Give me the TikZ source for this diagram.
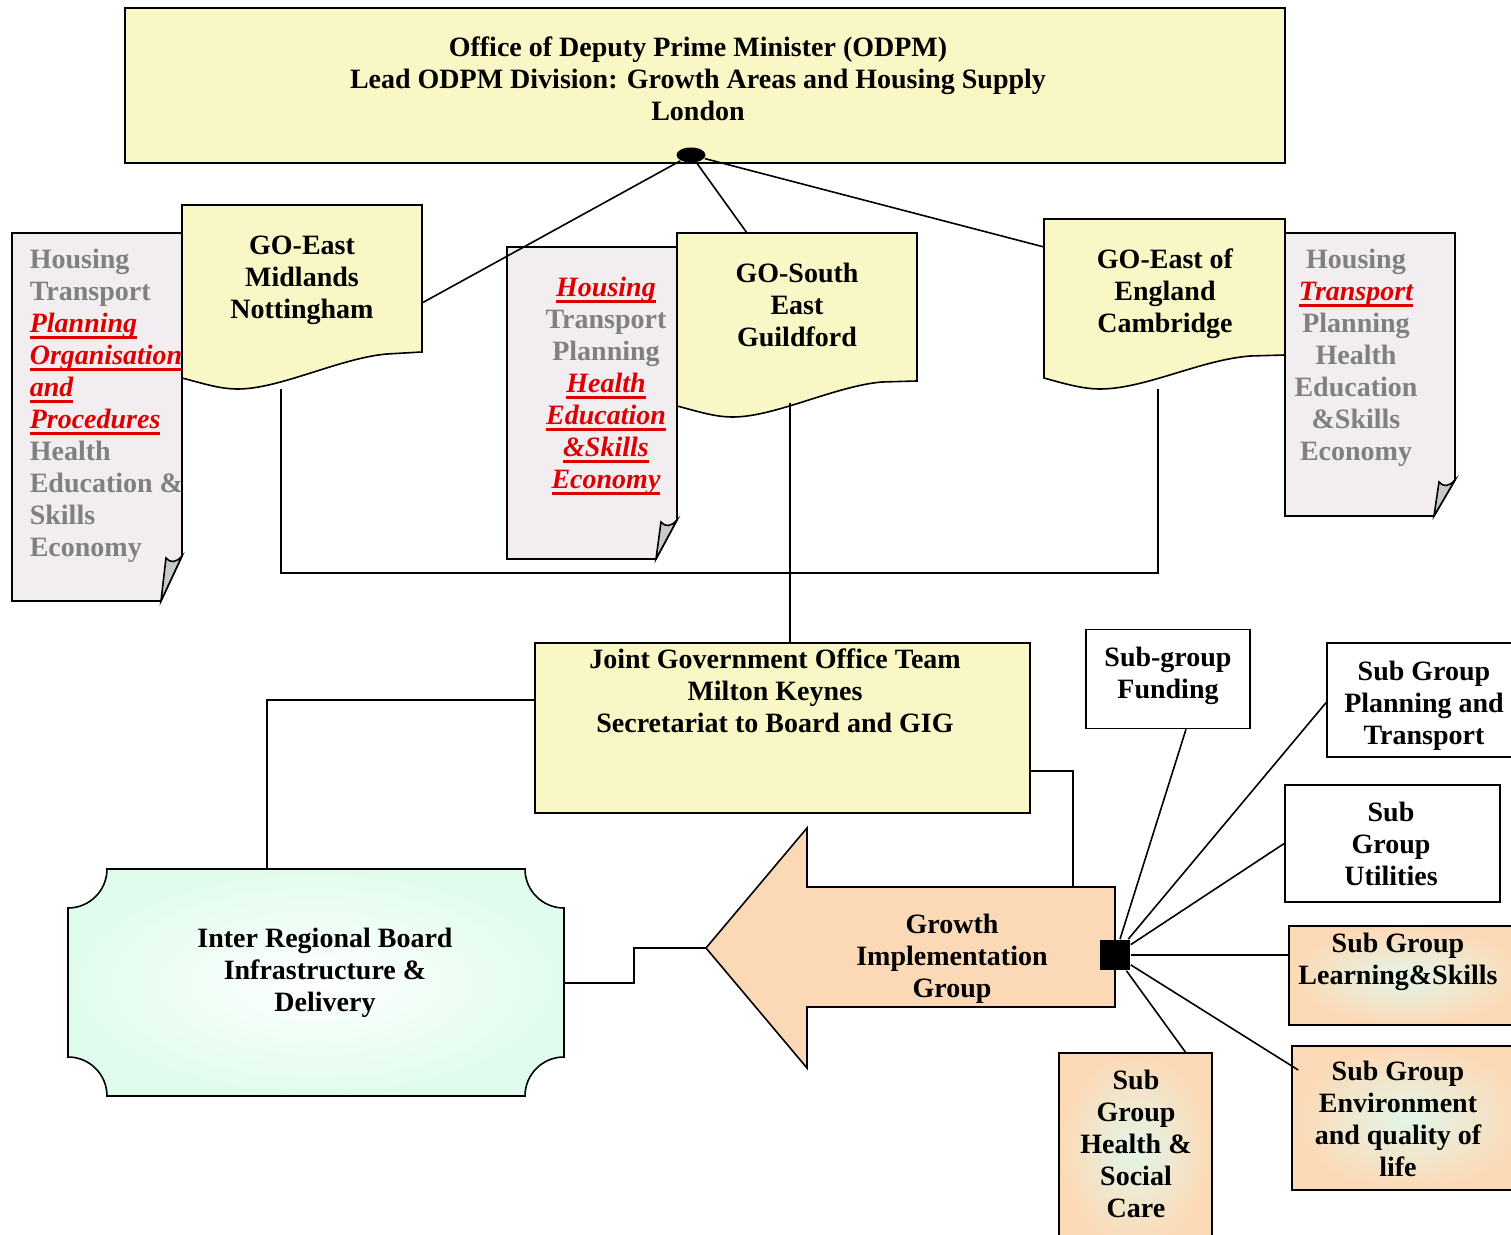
\documentclass[tikz,border=0pt]{standalone}
\usepackage{fontspec}
\setmainfont{Liberation Serif}
\usetikzlibrary{shapes.geometric}

\definecolor{odpmyellow}{RGB}{249,247,197}
\definecolor{notegrey}{RGB}{241,237,241}
\definecolor{foldgrey}{RGB}{200,200,200}
\definecolor{peach}{RGB}{252,217,182}
\definecolor{mint}{RGB}{224,252,236}
\definecolor{glow}{RGB}{226,246,232}
\definecolor{hired}{RGB}{222,0,0}
\newsavebox{\hotbox}
\newcommand{\hot}[1]{{\color{hired}\itshape\sbox{\hotbox}{#1}\rlap{\rule[-3.4pt]{\wd\hotbox}{1.4pt}}\usebox{\hotbox}}}

\begin{document}
\begin{tikzpicture}[x=0.5pt,y=-0.5pt,line width=0.8pt,
		font=\fontsize{14}{16}\selectfont\bfseries]
		\tikzstyle{txt}=[inner sep=0pt,align=center,anchor=north]
		\tikzstyle{notetxt}=[txt,text=gray]
		\tikzstyle{box}=[draw,rectangle,inner sep=0pt]
		\tikzstyle{peachbox}=[box,shade,shading=radial,inner color=glow,outer color=peach]
		\tikzstyle{note}=[draw,fill=notegrey]
		\tikzstyle{fold}=[draw,fill=foldgrey]
		\tikzstyle{gobox}=[draw,fill=odpmyellow]
		
		\useasboundingbox (0,0) rectangle (1511,1235);
		
		% ODPM
		\node[box,fill=odpmyellow,minimum width=580pt,minimum height=77.5pt] (odpm) at (705,85.5) {};
		\node[txt] (odpmt) at (698,36) {Office of Deputy Prime Minister (ODPM)\\Lead ODPM Division: Growth Areas and Housing Supply\\London};
		
		% topic notes
		\draw[note] (12,233) -- (182,233) -- (182,556) -- (161,601) -- (12,601) -- cycle;
		\draw[fold] (182,556) .. controls (176,563) and (170,563) .. (166,558) -- (161,601) -- cycle;
		\node[notetxt,align=left,anchor=north west] (emnote) at (29,248) {Housing\\Transport\\\hot{Planning}\\\hot{Organisation}\\\hot{and}\\\hot{Procedures}\\Health\\Education \&\\Skills\\Economy};
		
		\draw[note] (507,247) -- (677,247) -- (677,520) -- (656,559) -- (507,559) -- cycle;
		\draw[fold] (677,520) .. controls (671,527) and (665,527) .. (661,522) -- (656,559) -- cycle;
		\node[notetxt] (senote) at (606,276) {\hot{Housing}\\Transport\\Planning\\\hot{Health}\\\hot{Education}\\\hot{\&Skills}\\\hot{Economy}};
		
		\draw[note] (1285,233) -- (1455,233) -- (1455,480) -- (1434,516) -- (1285,516) -- cycle;
		\draw[fold] (1455,480) .. controls (1449,487) and (1443,487) .. (1439,482) -- (1434,516) -- cycle;
		\node[notetxt] (eenote) at (1356,248) {Housing\\\hot{Transport}\\Planning\\Health\\Education\\\&Skills\\Economy};
		
		% government offices
		\draw[gobox] (182,205) -- (422,205) -- (422,352) -- (387,354)
			.. controls (340,358) and (280,389) .. (238,389)
			.. controls (220,389) and (205,384) .. (182,378) -- cycle;
		\node[txt] (em) at (302,235) {GO-East\\Midlands\\Nottingham};
		
		\draw[gobox] (677,233) -- (917,233) -- (917,381) -- (882,382)
			.. controls (835,386) and (775,417) .. (733,417)
			.. controls (715,417) and (700,412) .. (677,406) -- cycle;
		\node[txt] (se) at (797,262) {GO-South\\East\\Guildford};
		
		\draw[gobox] (1044,219) -- (1285,219) -- (1285,355) -- (1250,356)
			.. controls (1200,360) and (1145,389) .. (1100,389)
			.. controls (1082,389) and (1062,383) .. (1044,378) -- cycle;
		\node[txt] (ee) at (1165,248) {GO-East of\\England\\Cambridge};
		
		\coordinate (em-r) at (422,303);
		\coordinate (se-t) at (747,233);
		\coordinate (ee-l) at (1044,247);
		\coordinate (em-b) at (281,389);
		\coordinate (se-b) at (790,403);
		\coordinate (ee-b) at (1158,389);
		
		\node[ellipse,fill,inner sep=0pt,minimum width=14.5pt,minimum height=7.5pt] (hub) at (691,155) {};
		\path (hub) edge (em-r)
			edge (se-t)
			edge (ee-l);
		
		\draw (em-b) -- ++(0,184) -| (ee-b);
		
		% joint team
		\node[box,fill=odpmyellow,minimum width=247.5pt,minimum height=85pt] (jgot) at (782.5,728) {};
		\node[txt] (jgott) at (775,648) {Joint Government Office Team\\Milton Keynes\\Secretariat to Board and GIG};
		\draw (se-b) -- (se-b |- jgot.north);
		
		% board
		\shade[draw,inner color=white,outer color=mint] (107,869) -- (525,869) arc (180:90:39)
			-- (564,1057) arc (270:180:39) -- (107,1096) arc (0:-90:39)
			-- (68,908) arc (90:0:39) -- cycle;
		\node[txt] (irb) at (325,927) {Inter Regional Board\\Infrastructure \&\\Delivery};
		\coordinate (irb-top) at (267,869);
		\coordinate (irb-r) at (564,983);
		
		% implementation group
		\draw[fill=peach] (706,948) -- (807,828) -- (807,887) -- (1115,887) -- (1115,1007)
			-- (807,1007) -- (807,1068) -- cycle;
		\node[txt] (gig) at (952,913) {Growth\\Implementation\\Group};
		\coordinate (gig-tip) at (706,948);
		\coordinate (gig-top) at (1073,887);
		
		\draw ([yshift=14pt]jgot.west) -| (irb-top);
		\draw ([yshift=-21.5pt]jgot.east) -| (gig-top);
		\draw (irb-r) -- ++(70,0) |- (gig-tip);
		
		% sub groups
		\node[box,fill=white,minimum width=82pt,minimum height=49.5pt] (fund) at (1168,679) {};
		\node[txt] (fundt) at (1168,646) {Sub-group\\Funding};
		\node[box,fill=white,minimum width=99.5pt,minimum height=57pt] (plan) at (1426.5,700) {};
		\node[txt] (plant) at (1424,660) {Sub Group\\Planning and\\Transport};
		\node[box,fill=white,minimum width=107.5pt,minimum height=58.5pt] (util) at (1392.5,843.5) {};
		\node[txt] (utilt) at (1391,801) {Sub\\Group\\Utilities};
		\node[peachbox,minimum width=118pt,minimum height=49.5pt] (learn) at (1407,975.5) {};
		\node[txt] (learnt) at (1398,932) {Sub Group\\Learning\&Skills};
		\node[peachbox,minimum width=117pt,minimum height=72pt] (env) at (1409,1118) {};
		\node[txt] (envt) at (1398,1060) {Sub Group\\Environment\\and quality of\\life};
		\node[peachbox,minimum width=76.5pt,minimum height=97pt] (health) at (1135.5,1150) {};
		\node[txt] (healtht) at (1136,1069) {Sub\\Group\\Health \&\\Social\\Care};
		
		\node[fill,inner sep=0pt,minimum size=15pt] (sq) at (1115,955) {};
		\path (sq) edge ([xshift=9pt]fund.south)
			edge ([yshift=-1.25pt]plan.west)
			edge (util.west)
			edge ([yshift=10.25pt]learn.west)
			edge ([xshift=3.5pt,yshift=24pt]env.west)
			edge ([xshift=25pt]health.north);
\end{tikzpicture}
\end{document}
